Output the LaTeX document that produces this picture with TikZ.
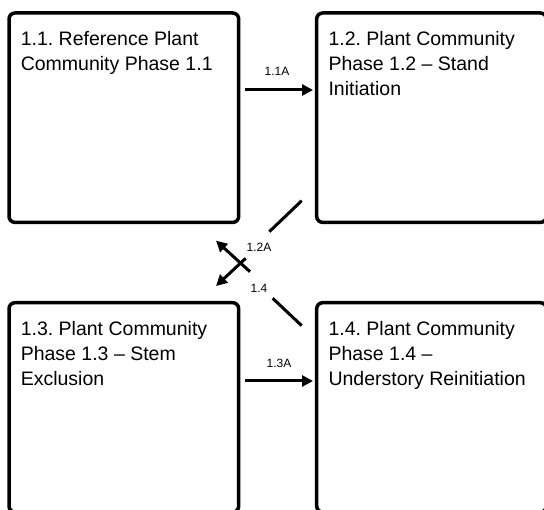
\documentclass[tikz,border=0pt]{standalone}
\usepackage{fontspec}
\setmainfont{Liberation Sans}
\usetikzlibrary{arrows.meta,calc}
\frenchspacing
\begin{document}
\begin{tikzpicture}[x=1pt,y=-1pt,
 box/.style={draw,line width=3.5pt,rounded corners=6pt,minimum width=229.7pt,minimum height=209.4pt,inner sep=0pt,outer sep=0pt,anchor=north west},
 txt/.style={anchor=north west,align=left,inner sep=0pt,font=\fontsize{19.5}{25}\selectfont},
 conn/.style={line width=3pt},
 arr/.style={line width=3pt,-{Triangle[length=11pt,width=11pt]}},
 lbl/.style={font=\fontsize{12}{14}\selectfont,inner sep=0pt}]
\useasboundingbox (0,0) rectangle (544,510);
\clip (0,0) rectangle (544,510);
% boxes
\node[box] (b1) at (9,13) {};
\node[box] (b2) at (316.7,13) {};
\node[box] (b3) at (9,302.7) {};
\node[box] (b4) at (316.7,302.7) {};
% texts
\node[txt] (t1) at ($(b1.north west)+(11.6,18.3)$) {1.1. Reference Plant\\Community Phase 1.1};
\node[txt] (t2) at ($(b2.north west)+(11.6,18.3)$) {1.2. Plant Community\\Phase 1.2 -- Stand\\Initiation};
\node[txt] (t3) at ($(b3.north west)+(11.6,18.3)$) {1.3. Plant Community\\Phase 1.3 -- Stem\\Exclusion};
\node[txt] (t4) at ($(b4.north west)+(11.6,18.3)$) {1.4. Plant Community\\Phase 1.4 --\\Understory Reinitiation};
% horizontal transitions
\coordinate (a11s) at (245,90);
\coordinate (a11e) at (313,90);
\draw[arr] (a11s) -- (a11e);
\node[lbl] (l11) at (277,71) {1.1A};
\coordinate (a13s) at (245,381);
\coordinate (a13e) at (313,381);
\draw[arr] (a13s) -- (a13e);
\node[lbl] (l13) at (279,363) {1.3A};
% diagonal transitions
\coordinate (p1) at (301.7,200.7);
\coordinate (p2) at (269.3,231.7);
\coordinate (p3) at (245.7,258.3);
\coordinate (p4) at (216,286);
\draw[conn] (p1) -- (p2);
\draw[arr] (p3) -- (p4);
\node[lbl] (l12) at (259,247.5) {1.2A};
\coordinate (q1) at (301.7,325.7);
\coordinate (q2) at (272.7,298.3);
\coordinate (q3) at (250,271.7);
\coordinate (q4) at (216,240.7);
\draw[conn] (q1) -- (q2);
\draw[arr] (q3) -- (q4);
\node[lbl] (l14) at (259,288) {1.4};
\end{tikzpicture}
\end{document}
